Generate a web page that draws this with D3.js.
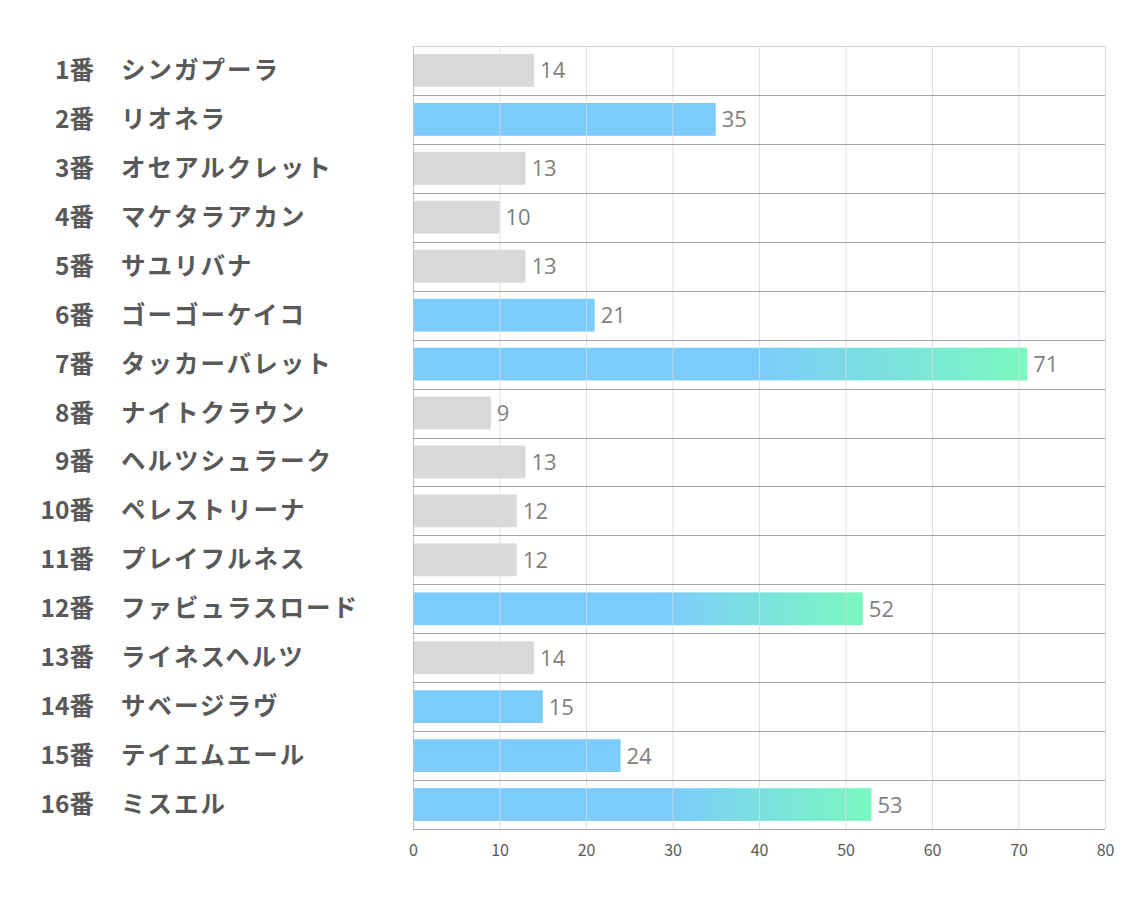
<!DOCTYPE html>
<html><head><meta charset="utf-8">
<script src="https://cdn.jsdelivr.net/npm/d3@7"></script>
<style>body{margin:0;background:#fff;} svg{display:block;}</style>
</head><body>
<script>
const numbers = ["1番","2番","3番","4番","5番","6番","7番","8番","9番","10番","11番","12番","13番","14番","15番","16番"];
const names = ["シンガプーラ","リオネラ","オセアルクレット","マケタラアカン","サユリバナ","ゴーゴーケイコ","タッカーバレット","ナイトクラウン","ヘルツシュラーク","ペレストリーナ","プレイフルネス","ファビュラスロード","ライネスヘルツ","サベージラヴ","テイエムエール","ミスエル"];
const values = [14,35,13,10,13,21,71,9,13,12,12,52,14,15,24,53];
const kinds = ["gray","blue","gray","gray","gray","blue","grad","gray","gray","gray","gray","grad","gray","blue","blue","grad"];
const ticks = [0,10,20,30,40,50,60,70,80];

const W=1134,H=907;
const svg=d3.select("body").append("svg").attr("width",W).attr("height",H);
const x=d3.scaleLinear().domain([0,80]).range([413,1105]);
const y=d3.scaleBand().domain(d3.range(16)).range([46,829]).paddingInner(0.33).paddingOuter(0.165);
const step=y.step();

const defs=svg.append("defs");
const gr=defs.append("linearGradient").attr("id","g1").attr("x1","0").attr("x2","1").attr("y1","0").attr("y2","0");
gr.append("stop").attr("offset","0.55").attr("stop-color","#7ccbfd");
gr.append("stop").attr("offset","1").attr("stop-color","#7af8bf");

const colorOf=k=>k==="gray"?"#d9d9d9":k==="blue"?"#7ccbfd":"url(#g1)";

// bars
svg.append("g").selectAll("rect").data(values).join("rect")
  .attr("x",x(0)).attr("y",(d,i)=>y(i)).attr("width",d=>x(d)-x(0)).attr("height",y.bandwidth())
  .attr("fill",(d,i)=>colorOf(kinds[i]));

// vertical gridlines
svg.append("g").selectAll("line").data(ticks).join("line")
  .attr("x1",d=>x(d)+0.5).attr("x2",d=>x(d)+0.5).attr("y1",46).attr("y2",829)
  .attr("stroke",d=>d===0?"#bfbfbf":"#d9d9d9").attr("stroke-opacity",d=>d===0||d===80?1:0.8).attr("stroke-width",1);

// horizontal row separators
const seps=d3.range(17);
svg.append("g").selectAll("line").data(seps).join("line")
  .attr("x1",x(0)).attr("x2",x(80))
  .attr("y1",i=>Math.round(46+i*step)+0.5).attr("y2",i=>Math.round(46+i*step)+0.5)
  .attr("stroke",i=>i===0?"#d0d0d0":"#a6a6a6").attr("stroke-width",1);

// value labels
svg.append("g").selectAll("text").data(values).join("text")
  .attr("x",d=>x(d)+6).attr("y",(d,i)=>y(i)+y.bandwidth()/2+8)
  .attr("font-family","'Open Sans', 'Noto Sans', sans-serif").attr("font-size",22)
  .attr("fill","#7f7f7f").text(d=>d);

// row labels
const lab=svg.append("g").attr("font-family","'Noto Sans CJK JP', sans-serif").attr("font-weight","bold").attr("font-size",24.5).attr("fill","#595959");
lab.selectAll("text.n").data(numbers).join("text").attr("class","n")
  .attr("x",94).attr("y",(d,i)=>y(i)+y.bandwidth()/2+8.5).attr("text-anchor","end").text(d=>d);
lab.selectAll("text.m").data(names).join("text").attr("class","m")
  .attr("x",121).attr("y",(d,i)=>y(i)+y.bandwidth()/2+8.5).attr("letter-spacing","2").text(d=>d);

// x axis
const ax=svg.append("g").attr("transform","translate(0,829)")
  .call(d3.axisBottom(x).tickValues(ticks).tickSize(0).tickPadding(16));
ax.select(".domain").remove();
ax.selectAll("text").attr("font-family","'Noto Sans CJK JP', sans-serif").attr("font-size",16).attr("fill","#595959");
</script>
</body></html>
